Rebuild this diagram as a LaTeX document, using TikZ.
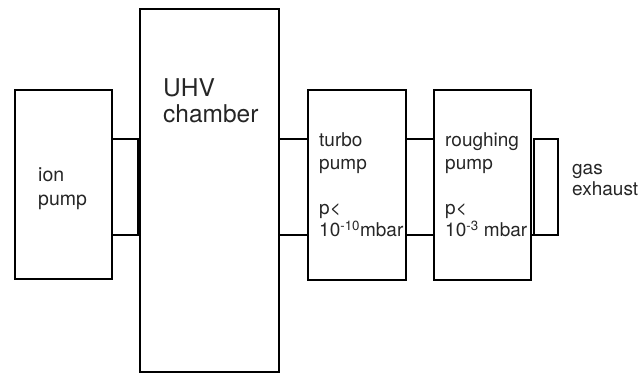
\documentclass[tikz,border=0pt]{standalone}
\usepackage{fontspec}
\setmainfont{TeX Gyre Heros}
\usetikzlibrary{calc,positioning}

\newcommand{\stack}[1]{\begin{tabular}[t]{@{}l@{}}#1\end{tabular}}

\begin{document}
\begin{tikzpicture}[
    x=1pt, y=-1pt,
    every node/.style={text=black!85},
    box/.style={rectangle, draw=black, line width=2pt, inner sep=0pt},
    lbl/.style={anchor=base west, inner sep=0pt, font=\fontsize{19}{22.5}\selectfont},
    big/.style={anchor=base west, inner sep=0pt, font=\fontsize{24.5}{26}\selectfont},
    pipe/.style={draw=black, line width=2pt},
]
    \useasboundingbox (0,0) rectangle (641,377);

    % Boxes
    \node[box, minimum width=97pt,  minimum height=189pt] (ion)   at (63.5,184.5) {};
    \node[box, minimum width=139pt, minimum height=363pt] (uhv)   at (209.5,190.5) {};
    \node[box, minimum width=98pt,  minimum height=190pt] (turbo) at (357,185) {};
    \node[box, minimum width=97pt,  minimum height=190pt] (rough) at (482.5,185) {};

    % Labels
    \node[lbl, font=\fontsize{19.5}{24}\selectfont] (ionT) at (38,182) {\stack{ion\\pump}};
    \node[big] (uhvT) at (163,97) {\stack{UHV\\chamber}};
    \node[lbl] (turboT) at (319,147)
        {\stack{turbo\\pump\\ \\p<\\10\textsuperscript{-10}mbar}};
    \node[lbl] (roughT) at (445,147)
        {\stack{roughing\\pump\\ \\p<\\10\textsuperscript{-3} mbar}};
    \node[lbl, font=\fontsize{19}{20.5}\selectfont] (gasT) at (572,175) {\stack{gas\\exhaust}};

    % Pipes
    \coordinate (pipeA) at (0,139);
    \coordinate (pipeB) at (0,235);
    \coordinate (exh)   at (558,187);
    \draw[pipe] (ion.east |- pipeA) -- ([xshift=-1.5pt]uhv.west |- pipeA)
        -- ([xshift=-1.5pt]uhv.west |- pipeB) -- (ion.east |- pipeB);
    \foreach \a/\b in {uhv/turbo, turbo/rough}
        \foreach \p in {pipeA, pipeB}
            \draw[pipe] (\a.east |- \p) -- (\b.west |- \p);
    \draw[pipe] ([xshift=1.5pt]rough.east |- pipeB) -- ([xshift=1.5pt]rough.east |- pipeA)
        -| (exh) |- (rough.east |- pipeB);
\end{tikzpicture}
\end{document}
